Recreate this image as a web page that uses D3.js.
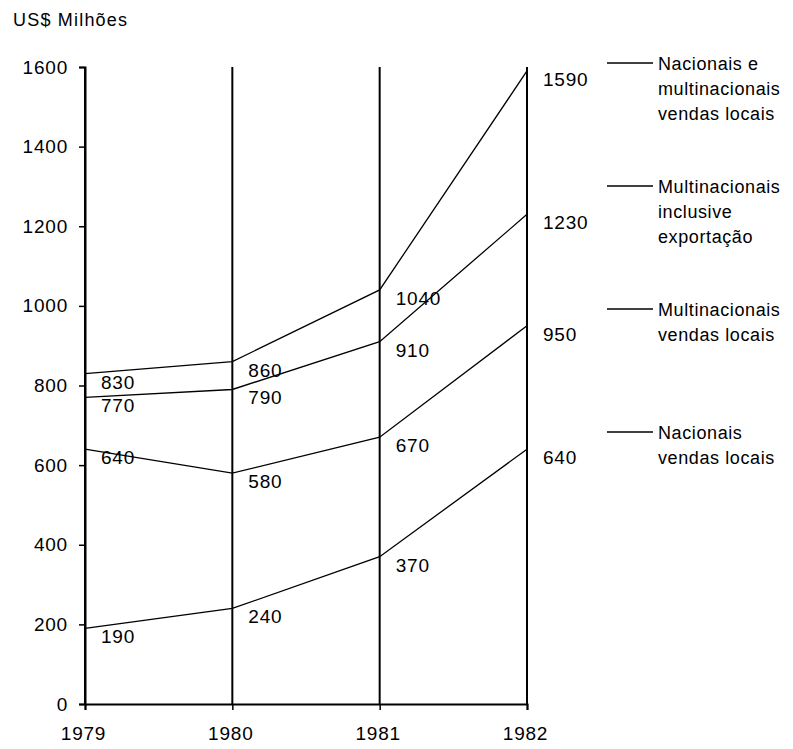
<!DOCTYPE html>
<html>
<head>
<meta charset="utf-8">
<script src="https://cdn.jsdelivr.net/npm/d3@7"></script>
<style>
  body { margin: 0; background: #fff; }
  text { font-family: "Liberation Sans", Arial, sans-serif; font-size: 18px; letter-spacing: 0.6px; fill: #000; }
  .num { font-size: 19px; letter-spacing: 0.8px; }
</style>
</head>
<body>
<div id="chart"></div>
<script>
const years = [1979, 1980, 1981, 1982];
const nacMultLocais = [830, 860, 1040, 1590];
const multExportacao = [770, 790, 910, 1230];
const multLocais = [640, 580, 670, 950];
const nacLocais = [190, 240, 370, 640];
const yTicks = [0, 200, 400, 600, 800, 1000, 1200, 1400, 1600];
const legendLabels = [
  ["Nacionais e", "multinacionais", "vendas locais"],
  ["Multinacionais", "inclusive", "exportação"],
  ["Multinacionais", "vendas locais"],
  ["Nacionais", "vendas locais"]
];

const width = 793, height = 749;
const svg = d3.select("#chart").append("svg")
  .attr("width", width)
  .attr("height", height);

const x = d3.scaleLinear()
  .domain([1979, 1982])
  .range([85, 527]);

const y = d3.scaleLinear()
  .domain([0, 1600])
  .range([704, 67]);

// title
svg.append("text")
  .attr("x", 13)
  .attr("y", 26)
  .style("letter-spacing", "1.2px")
  .text("US$ Milhões");

// vertical grid lines at each year
svg.append("g")
  .selectAll("line")
  .data(years)
  .enter()
  .append("line")
    .attr("x1", d => x(d))
    .attr("x2", d => x(d))
    .attr("y1", y(1600))
    .attr("y2", y(0))
    .attr("stroke", "#000")
    .attr("stroke-width", 2);

// y axis
const yAxis = svg.append("g")
  .attr("transform", "translate(" + x(1979) + ",0)")
  .call(d3.axisLeft(y).tickValues(yTicks).tickSize(6).tickPadding(12).tickFormat(d3.format("d")));
yAxis.select(".domain").attr("stroke", "#000").attr("stroke-width", 2);
yAxis.selectAll(".tick line").attr("stroke", "#000").attr("stroke-width", 1.5);
yAxis.selectAll("text")
  .attr("class", "num")
  .attr("fill", "#000")
  .attr("dx", 1)
  .style("font-family", "'Liberation Sans', Arial, sans-serif");

// x axis
const xAxis = svg.append("g")
  .attr("transform", "translate(0," + y(0) + ")")
  .call(d3.axisBottom(x).tickValues(years).tickSize(6).tickPadding(17).tickFormat(d3.format("d")));
xAxis.select(".domain").attr("stroke", "#000").attr("stroke-width", 2);
xAxis.selectAll(".tick line").attr("stroke", "#000").attr("stroke-width", 1.5);
xAxis.selectAll("text")
  .attr("class", "num")
  .attr("fill", "#000")
  .attr("dx", -2)
  .style("font-family", "'Liberation Sans', Arial, sans-serif");

// series
const series = [nacMultLocais, multExportacao, multLocais, nacLocais];

const line = d3.line()
  .x((d, i) => x(years[i]))
  .y(d => y(d));

svg.append("g")
  .selectAll("path")
  .data(series)
  .enter()
  .append("path")
    .attr("d", d => line(d))
    .attr("fill", "none")
    .attr("stroke", "#000")
    .attr("stroke-width", 1.3);

// value labels, below-right of each point
series.forEach(function(s) {
  svg.append("g")
    .selectAll("text")
    .data(s)
    .enter()
    .append("text")
      .attr("class", "num")
      .attr("x", (d, i) => x(years[i]) + 16)
      .attr("y", d => y(d) + 15)
      .text(d => d);
});

// legend
const legend = svg.append("g")
  .selectAll("g")
  .data(legendLabels)
  .enter()
  .append("g")
    .attr("transform", (d, i) => "translate(607," + (63 + i * 123) + ")");

legend.append("line")
  .attr("x1", 0)
  .attr("x2", 46)
  .attr("y1", 0)
  .attr("y2", 0)
  .attr("stroke", "#000")
  .attr("stroke-width", 1.3);

legend.each(function(d) {
  d3.select(this).selectAll("text")
    .data(d)
    .enter()
    .append("text")
      .attr("x", 51)
      .attr("y", (t, j) => 6.5 + j * 25)
      .text(t => t);
});
</script>
</body>
</html>
